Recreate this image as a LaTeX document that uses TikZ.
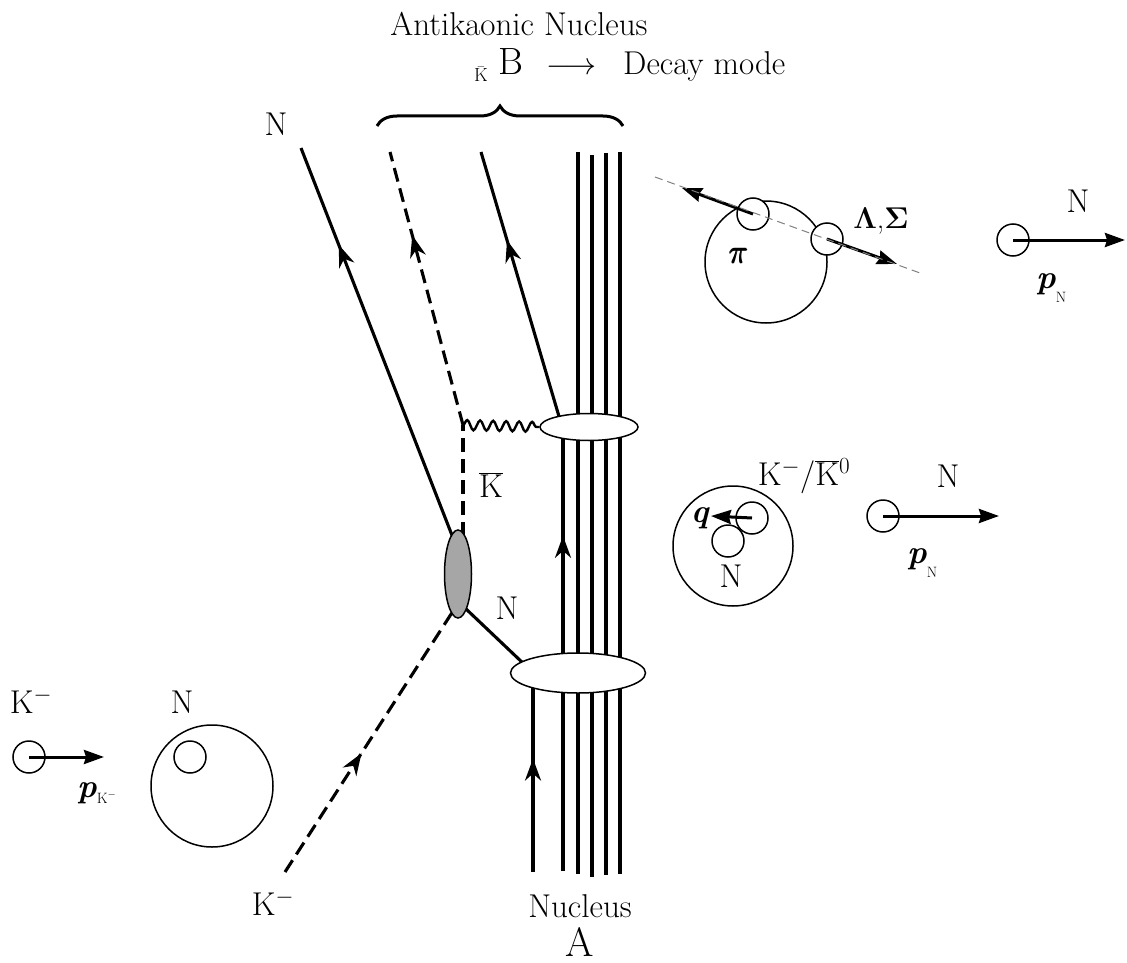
\RequirePackage{fix-cm}
\documentclass[tikz,border=0pt]{standalone}
\usetikzlibrary{arrows.meta,decorations.markings,decorations.pathmorphing,decorations.pathreplacing,shapes.geometric}
\newcommand{\bpi}{\rlap{$\pi$}\hspace{0.9pt}\rlap{$\pi$}\hspace{-0.9pt}\raisebox{0.5pt}{$\pi$}}
\newcommand{\bip}[1]{\textbf{\textit{#1}}}
\begin{document}
\begin{tikzpicture}[x=1pt,y=1pt,
  lbl/.style={font=\fontsize{33}{37}\selectfont, inner sep=0pt},
  ln/.style={line width=3.1pt},
  kdash/.style={line width=3.1pt, dash pattern=on 14pt off 7pt},
  smallc/.style={circle, draw, fill=white, line width=1.5pt, minimum size=32pt, inner sep=0pt},
  bigc/.style={circle, draw, line width=1.5pt, minimum size=122pt, inner sep=0pt},
  mom/.style={line width=3pt, -{Stealth[length=20pt,width=14pt,inset=2pt]}},
  midarrow/.style={postaction={decorate}, decoration={markings, mark=at position #1 with {\arrow[solid]{Stealth[length=22pt,width=16pt,inset=7pt]}}}},
  nuc/.style={ellipse, draw, fill=white, line width=1.5pt, inner sep=0pt},
]
\useasboundingbox (0,0) rectangle (1127,-963);

% ---------- top texts ----------
\node[lbl, anchor=base] (antik) at (519,-36) {Antikaonic Nucleus};
\node[anchor=base west, inner sep=0pt, font=\fontsize{19}{21}\selectfont] (ksub) at (474,-82) {$\bar{\mathrm{K}}$};
\node[anchor=base west, inner sep=0pt, font=\fontsize{38}{42}\selectfont] (bB) at (498,-75) {B};
\node[anchor=base west, inner sep=0pt, font=\fontsize{31}{34}\selectfont] (arr) at (546,-75) {$\longrightarrow$};
\node[lbl, anchor=base west] (decay) at (623,-75) {Decay mode};

\coordinate (br1) at (377,-126);
\coordinate (br2) at (623,-126);
\draw[line width=3pt, decorate, decoration={brace, amplitude=20pt}] (br1) -- (br2);

% ---------- nucleus lines ----------
\foreach \x/\ytop/\ybot [count=\i] in {578/152/874, 592/155/877, 606/153/875, 620/152/874}{
  \coordinate (vt\i) at (\x,-\ytop);
  \coordinate (vb\i) at (\x,-\ybot);
  \draw[ln] (vt\i) -- (vb\i);
}
\coordinate (m1) at (563,-430);
\coordinate (m1b) at (563,-871);
\draw[ln, midarrow=0.76] (m1b) -- (m1);
\coordinate (l1t) at (533,-673);
\coordinate (l1b) at (533,-872);
\draw[ln, midarrow=0.57] (l1b) -- (l1t);

% ---------- outgoing / incoming lines ----------
\coordinate (ntop) at (301,-148);
\coordinate (nbot) at (455,-543);
\coordinate (dtop) at (390,-152);
\coordinate (corner) at (463,-425);
\coordinate (dbot) at (463,-536);
\coordinate (ttop) at (481,-152);
\coordinate (tbot) at (563,-430);
\coordinate (kstart) at (285,-872);
\coordinate (kend) at (455,-608);
\coordinate (nl1) at (465,-608);
\coordinate (nl2) at (525,-665);

\draw[ln, midarrow=0.755] (nbot) -- (ntop);
\draw[kdash, midarrow=0.695] (corner) -- (dtop);
\draw[kdash] (dbot) -- (corner);
\draw[ln, midarrow=0.683] (tbot) -- (ttop);
\draw[kdash, midarrow=0.45] (kstart) -- (kend);
\draw[ln] (nl1) -- (nl2);

\node[nuc, minimum width=98pt, minimum height=27pt] (ue) at (589,-427) {};
\node[nuc, minimum width=135pt, minimum height=40pt] (le) at (578,-673) {};
\node[ellipse, draw, fill=black!35, line width=1.5pt, minimum width=27pt, minimum height=88pt, inner sep=0pt] (gv) at (458,-574) {};

\draw[line width=2.4pt, decorate, decoration={snake, segment length=13pt, amplitude=5pt}] (corner) -- (ue.west);

% ---------- diagram labels ----------
\node[lbl] (lN1) at (276,-124) {N};
\node[lbl] (lKbar) at (491,-485) {$\overline{\mathrm{K}}$};
\node[lbl] (lN2) at (507,-608) {N};
\node[lbl] (lKm) at (273,-903) {K$^{-}$};
\node[lbl] (lNuc) at (580,-906) {Nucleus};
\node[font=\fontsize{41}{45}\selectfont, inner sep=0pt] (lA) at (580,-942) {A};

% ---------- top right: decay ----------
\node[bigc] (bc1) at (766,-262) {};
\node[smallc] (pic) at (753,-214) {};
\node[smallc] (lac) at (827,-239) {};
\coordinate (g1) at (655,-177);
\coordinate (g2) at (920,-273);
\coordinate (pitip) at (682,-188);
\coordinate (latip) at (897,-264);
\draw[mom] (pic.center) -- (pitip);
\draw[mom] (lac.center) -- (latip);
\draw[gray, line width=1pt, dash pattern=on 8pt off 5pt] (g1) -- (g2);
\node[lbl] (lpi) at (738,-256) {\bpi};
\node[lbl, font=\fontsize{30}{34}\selectfont] (lLS) at (881,-221) {$\mathbf{\Lambda}$,$\mathbf{\Sigma}$};

\node[smallc] (nc1) at (1013,-240) {};
\coordinate (nt1) at (1125,-240);
\draw[mom] (nc1.center) -- (nt1);
\node[lbl] (lN3) at (1078,-201) {N};
\node[lbl, anchor=base west] (lp1) at (1036,-288) {\bip{p}\raisebox{-14pt}{\fontsize{15}{16}\selectfont N}};

% ---------- middle right: K N ----------
\node[bigc, minimum size=120pt] (bc2) at (733,-546) {};
\node[smallc] (ncq) at (728,-541) {};
\node[smallc] (kcq) at (752,-518) {};
\coordinate (qtip) at (711,-516);
\draw[mom] (kcq.center) -- (qtip);
\node[lbl, anchor=base east] (lq) at (710,-522) {\bip{q}};
\node[lbl] (lN4) at (731,-576) {N};
\node[lbl] (lKK) at (804,-476) {K$^{-}$/$\overline{\mathrm{K}}{}^{0}$};

\node[smallc] (nc2) at (883,-516) {};
\coordinate (nt2) at (999,-516);
\draw[mom] (nc2.center) -- (nt2);
\node[lbl] (lN5) at (948,-476) {N};
\node[lbl, anchor=base west] (lp2) at (907,-563) {\bip{p}\raisebox{-14pt}{\fontsize{15}{16}\selectfont N}};

% ---------- left: K- and N ----------
\node[lbl] (lKm2) at (31,-701) {K$^{-}$};
\node[smallc] (kc0) at (29,-757) {};
\coordinate (kt0) at (104,-757);
\draw[mom] (kc0.center) -- (kt0);
\node[lbl, anchor=base west] (lpk) at (77,-797) {\bip{p}\raisebox{-6pt}{\fontsize{15}{16}\selectfont K$^{-}$}};
\node[lbl] (lN6) at (182,-702) {N};
\node[bigc] (bc0) at (212,-786) {};
\node[smallc] (nc0) at (190,-757) {};
\end{tikzpicture}
\end{document}
